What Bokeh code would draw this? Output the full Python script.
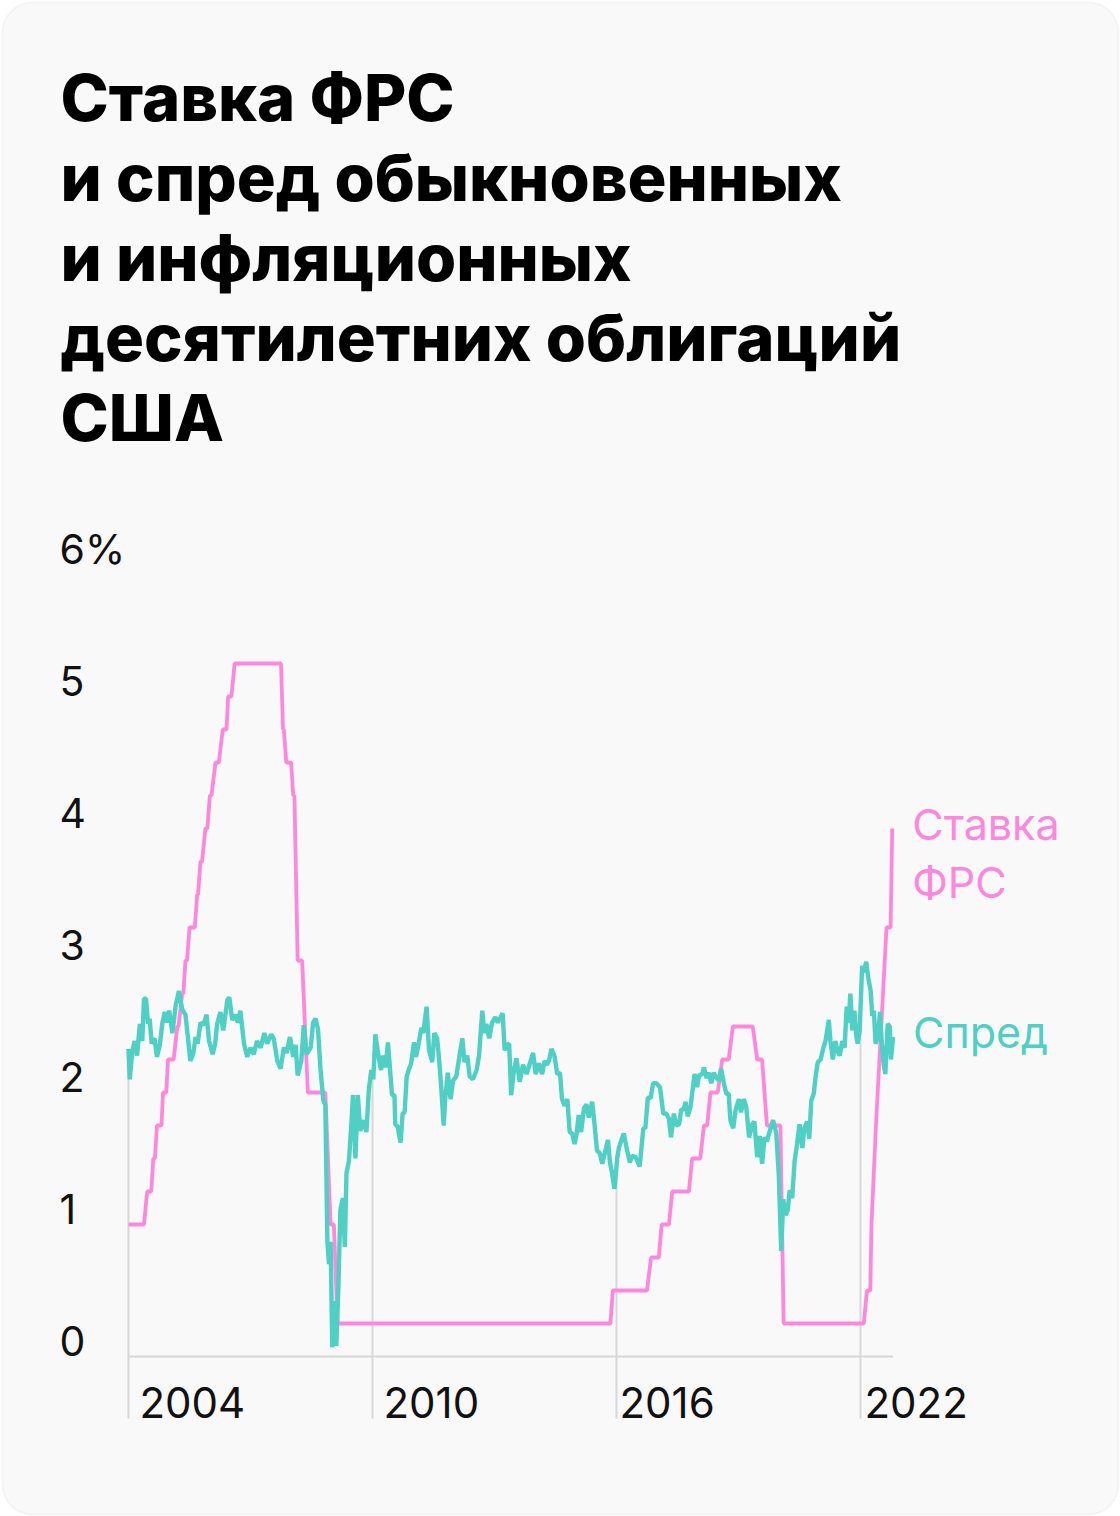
import numpy as np
from bokeh.plotting import figure
from bokeh.models import Range1d, BoxAnnotation
from bokeh.core.properties import value
from bokeh.embed import file_html
from bokeh.resources import INLINE

# ---------------- data ----------------
title_lines = ["Ставка ФРС", "и спред обыкновенных", "и инфляционных",
               "десятилетних облигаций", "США"]
y_ticks = [0, 1, 2, 3, 4, 5, 6]
y_tick_labels = ["0", "1", "2", "3", "4", "5", "6%"]
x_ticks = [2004, 2010, 2016, 2022]
x_tick_labels = ["2004", "2010", "2016", "2022"]
fed_label = ["Ставка", "ФРС"]
spread_label = "Спред"

# Fed funds target rate (upper bound), vertices
fed_t = [2004.00, 2004.38, 2004.46, 2004.56, 2004.61, 2004.65, 2004.70, 2004.81,
         2004.85, 2004.93, 2004.97, 2005.11, 2005.20, 2005.23, 2005.32, 2005.35,
         2005.40, 2005.44, 2005.50, 2005.63, 2005.69, 2005.71, 2005.77, 2005.81,
         2005.89, 2005.94, 2006.00, 2006.04, 2006.14, 2006.22, 2006.32, 2006.41,
         2006.45, 2006.53, 2006.61, 2007.75, 2007.80, 2007.82, 2007.88, 2008.00,
         2008.05, 2008.08, 2008.16, 2008.27, 2008.41, 2008.84, 2008.97, 2009.05,
         2009.14, 2015.85, 2015.91, 2016.75, 2016.85, 2017.04, 2017.11, 2017.29,
         2017.37, 2017.78, 2017.86, 2018.06, 2018.15, 2018.23, 2018.31, 2018.49,
         2018.60, 2018.76, 2018.86, 2019.35, 2019.46, 2019.58, 2019.70, 2020.03,
         2020.11, 2022.08, 2022.16, 2022.24, 2022.27, 2022.38, 2022.51, 2022.64,
         2022.74, 2022.78]
fed_v = [1.00, 1.00, 1.25, 1.25, 1.50, 1.50, 1.75, 1.75,
         2.00, 2.00, 2.25, 2.25, 2.50, 2.50, 2.75, 2.75,
         3.00, 3.00, 3.25, 3.25, 3.50, 3.50, 3.75, 3.75,
         4.00, 4.00, 4.25, 4.25, 4.50, 4.50, 4.75, 4.75,
         5.00, 5.00, 5.25, 5.25, 4.75, 4.75, 4.50, 4.50,
         4.25, 4.25, 3.00, 3.00, 2.00, 2.00, 1.00, 1.00,
         0.25, 0.25, 0.50, 0.50, 0.75, 0.75, 1.00, 1.00,
         1.25, 1.25, 1.50, 1.50, 1.75, 1.75, 2.00, 2.00,
         2.25, 2.25, 2.50, 2.50, 2.25, 2.25, 1.75, 1.75,
         0.25, 0.25, 0.50, 0.50, 1.00, 1.75, 2.50, 3.25,
         3.25, 4.00]

# Spread between nominal and inflation-indexed 10y Treasuries
spread_t = [2004.00, 2004.03, 2004.09, 2004.15, 2004.21, 2004.28, 2004.34, 2004.38, 2004.43, 2004.48,
            2004.52, 2004.57, 2004.64, 2004.70, 2004.77, 2004.83, 2004.89, 2004.95, 2005.00, 2005.08,
            2005.16, 2005.24, 2005.32, 2005.40, 2005.46, 2005.52, 2005.59, 2005.65, 2005.70, 2005.77,
            2005.84, 2005.92, 2005.98, 2006.07, 2006.13, 2006.18, 2006.26, 2006.33, 2006.43, 2006.48,
            2006.55, 2006.63, 2006.69, 2006.75, 2006.84, 2006.92, 2007.00, 2007.08, 2007.16, 2007.25,
            2007.34, 2007.41, 2007.51, 2007.57, 2007.66, 2007.74, 2007.82, 2007.89, 2007.97, 2008.05,
            2008.11, 2008.16, 2008.25, 2008.31, 2008.38, 2008.48, 2008.54, 2008.60, 2008.66, 2008.72,
            2008.79, 2008.84, 2008.89, 2008.93, 2008.97, 2009.01, 2009.07, 2009.11, 2009.16, 2009.21,
            2009.27, 2009.32, 2009.36, 2009.42, 2009.48, 2009.52, 2009.58, 2009.64, 2009.70, 2009.79,
            2009.85, 2009.91, 2009.97, 2010.02, 2010.07, 2010.15, 2010.21, 2010.26, 2010.32, 2010.38,
            2010.44, 2010.48, 2010.54, 2010.56, 2010.62, 2010.69, 2010.74, 2010.79, 2010.84, 2010.89,
            2010.95, 2011.02, 2011.07, 2011.14, 2011.20, 2011.25, 2011.33, 2011.39, 2011.47, 2011.52,
            2011.59, 2011.64, 2011.69, 2011.75, 2011.79, 2011.85, 2011.92, 2011.98, 2012.06, 2012.14,
            2012.21, 2012.26, 2012.33, 2012.39, 2012.47, 2012.56, 2012.62, 2012.70, 2012.75, 2012.80,
            2012.87, 2012.94, 2013.02, 2013.08, 2013.15, 2013.20, 2013.25, 2013.29, 2013.36, 2013.41,
            2013.48, 2013.54, 2013.62, 2013.70, 2013.79, 2013.87, 2013.95, 2014.01, 2014.09, 2014.17,
            2014.23, 2014.29, 2014.34, 2014.40, 2014.48, 2014.54, 2014.61, 2014.66, 2014.72, 2014.79,
            2014.85, 2014.91, 2014.97, 2015.02, 2015.07, 2015.13, 2015.20, 2015.26, 2015.32, 2015.40,
            2015.46, 2015.52, 2015.59, 2015.65, 2015.71, 2015.79, 2015.84, 2015.89, 2015.95, 2016.02,
            2016.06, 2016.11, 2016.18, 2016.26, 2016.33, 2016.38, 2016.47, 2016.57, 2016.66, 2016.71,
            2016.77, 2016.84, 2016.90, 2016.98, 2017.07, 2017.15, 2017.23, 2017.29, 2017.34, 2017.41,
            2017.47, 2017.54, 2017.59, 2017.65, 2017.70, 2017.75, 2017.82, 2017.92, 2017.98, 2018.03,
            2018.11, 2018.15, 2018.21, 2018.27, 2018.33, 2018.39, 2018.46, 2018.52, 2018.57, 2018.64,
            2018.70, 2018.76, 2018.80, 2018.87, 2018.93, 2019.01, 2019.06, 2019.13, 2019.19, 2019.26,
            2019.34, 2019.39, 2019.46, 2019.52, 2019.58, 2019.64, 2019.70, 2019.77, 2019.85, 2019.93,
            2019.99, 2020.05, 2020.10, 2020.16, 2020.21, 2020.26, 2020.32, 2020.38, 2020.44, 2020.50,
            2020.57, 2020.62, 2020.69, 2020.74, 2020.79, 2020.85, 2020.90, 2020.95, 2021.02, 2021.08,
            2021.14, 2021.22, 2021.26, 2021.32, 2021.38, 2021.44, 2021.49, 2021.55, 2021.61, 2021.66,
            2021.71, 2021.75, 2021.80, 2021.85, 2021.90, 2021.93, 2021.98, 2022.04, 2022.08, 2022.14,
            2022.19, 2022.25, 2022.29, 2022.33, 2022.37, 2022.43, 2022.48, 2022.52, 2022.56, 2022.61,
            2022.67, 2022.72, 2022.75, 2022.80]
spread_v = [2.33, 2.10, 2.30, 2.39, 2.28, 2.52, 2.39, 2.71, 2.71, 2.52,
            2.56, 2.37, 2.41, 2.27, 2.36, 2.52, 2.61, 2.53, 2.62, 2.45,
            2.66, 2.77, 2.63, 2.59, 2.42, 2.24, 2.29, 2.42, 2.37, 2.53,
            2.51, 2.59, 2.39, 2.29, 2.37, 2.52, 2.61, 2.47, 2.70, 2.72,
            2.55, 2.59, 2.53, 2.62, 2.37, 2.27, 2.34, 2.29, 2.39, 2.34,
            2.45, 2.37, 2.44, 2.41, 2.24, 2.18, 2.34, 2.30, 2.42, 2.27,
            2.36, 2.13, 2.24, 2.51, 2.29, 2.34, 2.53, 2.56, 2.48, 2.18,
            1.94, 1.91, 0.88, 0.70, 0.87, 0.07, 0.42, 0.08, 0.52, 1.11,
            1.20, 0.83, 1.39, 1.48, 1.76, 1.98, 1.50, 1.98, 1.71, 1.79,
            1.70, 2.02, 2.17, 2.10, 2.44, 2.27, 2.17, 2.28, 2.19, 2.38,
            2.14, 1.98, 1.98, 1.76, 1.74, 1.62, 1.84, 1.85, 2.12, 2.17,
            2.22, 2.38, 2.27, 2.38, 2.49, 2.45, 2.65, 2.32, 2.23, 2.45,
            2.41, 2.24, 2.04, 1.75, 1.96, 2.15, 1.95, 2.09, 2.12, 2.28,
            2.41, 2.23, 2.28, 2.12, 2.10, 2.17, 2.28, 2.62, 2.45, 2.52,
            2.41, 2.53, 2.57, 2.53, 2.57, 2.60, 2.32, 2.36, 2.37, 1.98,
            2.17, 2.26, 2.08, 2.21, 2.14, 2.22, 2.30, 2.14, 2.22, 2.14,
            2.24, 2.21, 2.24, 2.33, 2.27, 2.14, 2.15, 1.95, 1.90, 1.95,
            1.70, 1.69, 1.61, 1.69, 1.83, 1.70, 1.88, 1.91, 1.81, 1.93,
            1.76, 1.56, 1.54, 1.46, 1.54, 1.64, 1.47, 1.39, 1.27, 1.51,
            1.58, 1.63, 1.69, 1.56, 1.47, 1.52, 1.51, 1.44, 1.73, 1.73,
            1.96, 1.96, 2.07, 2.07, 2.04, 1.84, 1.84, 1.80, 1.66, 1.84,
            1.75, 1.76, 1.87, 1.87, 1.93, 1.82, 1.89, 2.14, 2.04, 2.13,
            2.14, 2.19, 2.11, 2.15, 2.07, 2.15, 2.11, 2.09, 2.18, 2.07,
            1.99, 1.99, 1.79, 1.73, 1.87, 1.95, 1.85, 1.95, 1.89, 1.66,
            1.76, 1.78, 1.51, 1.67, 1.46, 1.66, 1.63, 1.71, 1.79, 1.69,
            1.38, 0.80, 1.19, 1.07, 1.11, 1.26, 1.20, 1.48, 1.61, 1.76,
            1.58, 1.73, 1.78, 1.65, 1.94, 1.99, 2.13, 2.23, 2.25, 2.33,
            2.39, 2.55, 2.39, 2.25, 2.39, 2.31, 2.28, 2.39, 2.34, 2.65,
            2.53, 2.75, 2.47, 2.62, 2.42, 2.37, 2.47, 2.96, 2.91, 2.99,
            2.87, 2.77, 2.58, 2.62, 2.37, 2.42, 2.61, 2.39, 2.24, 2.14,
            2.52, 2.50, 2.25, 2.42]

# ---------------- styling / layout ----------------
PINK = "#ff88dd"
TEAL = "#50cfc4"
GRID = "#d8d8d8"
INK = "#111111"
FONT = "Inter"
TITLE_FONT = "'Inter ExtraBold', Inter"

W, H = 1120, 1516
X0_PX = 128          # canvas x of 2004
PX_YEAR = 244 / 6    # pixels per year
Y0_PX = 160          # canvas px (from bottom) of value 0
PX_UNIT = 132        # pixels per percentage point
GRID_BOTTOM = -0.47  # vertical tick lines run below the baseline

p = figure(width=W, height=H, x_range=Range1d(0, W), y_range=Range1d(H, 0),
           min_border=0, toolbar_location=None, output_backend="svg",
           x_axis_location=None, y_axis_location=None,
           outline_line_color=None, background_fill_color="white",
           border_fill_color="white")
p.grid.visible = False

xs = 2004 - X0_PX / PX_YEAR
p.extra_x_ranges = {"yr": Range1d(xs, xs + W / PX_YEAR)}
ys = -Y0_PX / PX_UNIT
p.extra_y_ranges = {"val": Range1d(ys, ys + H / PX_UNIT)}

# card
card = BoxAnnotation(left=2, right=W - 2, top=2, bottom=H - 2,
                     fill_color="#f9f9f9", fill_alpha=1.0,
                     line_color="#e6e6e6", line_width=2, border_radius=30,
                     level="underlay")
p.add_layout(card)

# title
p.text(x=[60] * len(title_lines), y=[122 + 80 * i for i in range(len(title_lines))],
       text=title_lines, text_font=value(TITLE_FONT), text_font_size="65px",
       text_font_style="bold", text_color="#000000", text_baseline="alphabetic",
       text_align="left", y_offset=-25)

# y tick labels
p.text(x=[59] * len(y_ticks), y=y_ticks, text=y_tick_labels, y_range_name="val",
       text_font=value(FONT), text_font_size="41px", text_color=INK,
       text_baseline="alphabetic", text_align="left", y_offset=-16)

# vertical year lines from below baseline up to the spread line
grid_top = np.interp(x_ticks, spread_t, spread_v)
p.segment(x0=x_ticks, y0=[GRID_BOTTOM] * len(x_ticks), x1=x_ticks, y1=grid_top,
          x_range_name="yr", y_range_name="val", line_color=GRID, line_width=2)
# baseline
p.segment(x0=[spread_t[0]], y0=[0], x1=[spread_t[-1]], y1=[0],
          x_range_name="yr", y_range_name="val", line_color=GRID, line_width=2)

# x tick labels
p.text(x=x_ticks, y=[GRID_BOTTOM] * len(x_ticks), text=x_tick_labels,
       x_range_name="yr", y_range_name="val",
       text_font=value(FONT), text_font_size="42px", text_color=INK,
       text_baseline="alphabetic", text_align="left",
       x_offset=[11, 11, 3, 4], y_offset=-16)

# series
p.line(fed_t, fed_v, x_range_name="yr", y_range_name="val",
       line_color=PINK, line_width=3.8)
p.line(spread_t, spread_v, x_range_name="yr", y_range_name="val",
       line_color=TEAL, line_width=4.4)

# end labels
p.text(x=[fed_t[-1], fed_t[-1]], y=[fed_v[-1], fed_v[-1]], text=fed_label,
       x_range_name="yr", y_range_name="val", x_offset=20, y_offset=[-5, 53],
       text_font=value(FONT), text_font_size="43px", text_color=PINK,
       text_baseline="middle", text_align="left")
p.text(x=[spread_t[-1]], y=[spread_v[-1]], text=[spread_label],
       x_range_name="yr", y_range_name="val", x_offset=20, y_offset=-5,
       text_font=value(FONT), text_font_size="43px", text_color=TEAL,
       text_baseline="middle", text_align="left")

html = file_html(p, INLINE, title="Ставка ФРС и спред")
with open("out.html", "w", encoding="utf-8") as f:
    f.write(html)
